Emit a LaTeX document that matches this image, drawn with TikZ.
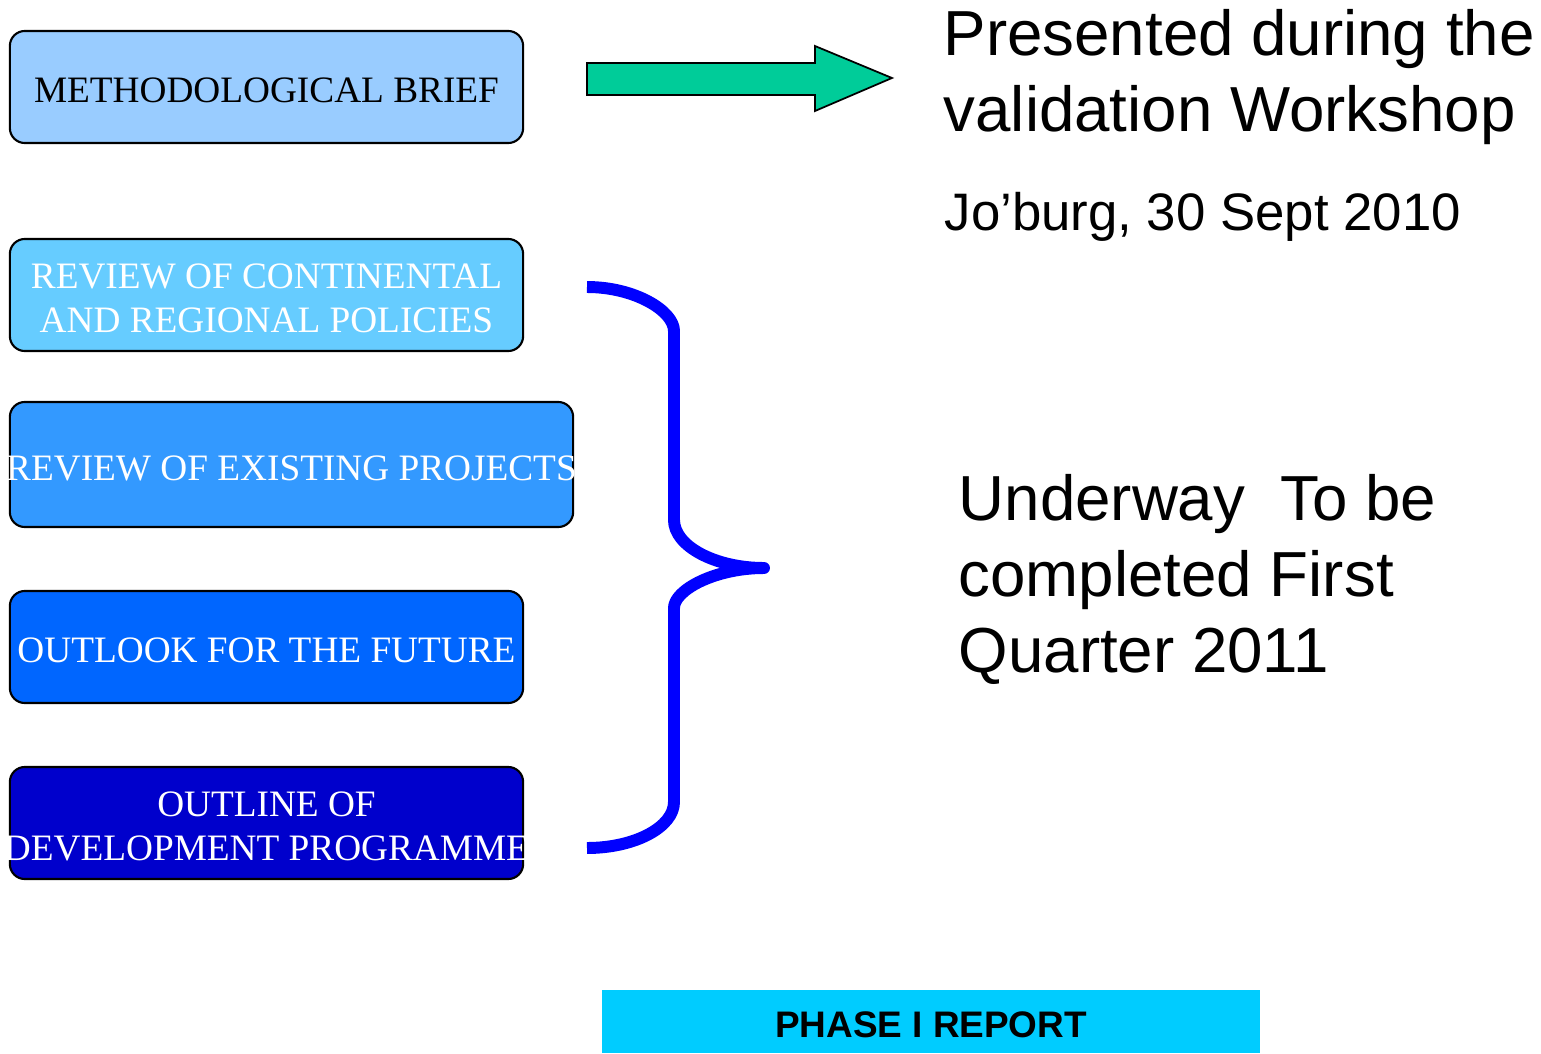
\documentclass[tikz,border=0pt]{standalone}
\usepackage{fontspec}
\setmainfont{Liberation Sans}
\newfontfamily\stagefont{Liberation Serif}
\usetikzlibrary{positioning}

\definecolor{briefblue}{HTML}{99CCFF}
\definecolor{policyblue}{HTML}{66CCFF}
\definecolor{projectblue}{HTML}{3399FF}
\definecolor{outlookblue}{HTML}{0066FF}
\definecolor{outlineblue}{HTML}{0000CC}
\definecolor{arrowgreen}{HTML}{00CC99}
\definecolor{bracebl}{HTML}{0000FF}
\definecolor{phasecyan}{HTML}{00CCFF}

\begin{document}
\begin{tikzpicture}[x=0.01cm, y=-0.01cm,
  stage/.style={shape=rectangle, rounded corners=0.15cm, draw=black, line width=0.6pt,
    minimum width=5.13cm, minimum height=1.12cm, inner sep=0pt},
  stagetext/.style={align=center, inner sep=0pt, text=white,
    font=\stagefont\fontsize{10.6pt}{12.5pt}\selectfont},
  note/.style={align=left, inner sep=0pt, anchor=base west,
    font=\fontsize{18.1pt}{21.6pt}\selectfont}]
\useasboundingbox (0,0) rectangle (1541,1054);

% stages of the study
\node[stage, fill=briefblue, label={[stagetext, text=black, yshift=-1pt]center:METHODOLOGICAL BRIEF}] (brief) at (266.5,87) {};
\node[stage, fill=policyblue, label={[stagetext, yshift=-1pt]center:REVIEW OF CONTINENTAL\\AND REGIONAL POLICIES}] (policies) at (266.5,295) {};
\node[stage, fill=projectblue, minimum width=5.63cm, minimum height=1.25cm, label={[stagetext, yshift=-1pt]center:REVIEW OF EXISTING PROJECTS}] (projects) at (291.5,464.5) {};
\node[stage, fill=outlookblue, label={[stagetext, yshift=-1pt]center:OUTLOOK FOR THE FUTURE}] (outlook) at (266.5,647) {};
\node[stage, fill=outlineblue, label={[stagetext, yshift=-1pt]center:OUTLINE OF\\DEVELOPMENT PROGRAMME}] (outline) at (266.5,823) {};

% arrow and brace
\draw[fill=arrowgreen, line width=0.5pt] (587,63) -- (815,63) -- (815,46) -- (892,78)
  -- (815,111) -- (815,95) -- (587,95) -- cycle;
\coordinate (bracetop) at (587,287);
\coordinate (bracetip) at (764,568);
\coordinate (bracebot) at (587,848);
\draw[draw=bracebl, line width=3.4pt, line join=round]
  (bracetop) .. controls (635,287) and (674,311) .. (674,331)
  -- (674,520) .. controls (674,546) and (715,568) .. (bracetip)
  .. controls (715,568) and (674,590) .. (674,608)
  -- (674,802) .. controls (674,827) and (635,848) .. (bracebot);

% notes (base anchor sits on the last line)
\node[note] (presented) at (943,131) {Presented during the\\validation Workshop};
\node[note, font=\fontsize{15pt}{18pt}\selectfont] (joburg) at (944,230) {Jo’burg, 30 Sept 2010};
\node[note] (underway) at (958,672) {Underway\ \ To be\\completed First\\Quarter 2011};

\node[fill=phasecyan, minimum width=6.58cm, minimum height=0.63cm, inner sep=0pt, text height=9.3pt,
  font=\bfseries\fontsize{10.5pt}{12pt}\selectfont] (phase) at (931,1021.5) {PHASE I REPORT};
\end{tikzpicture}
\end{document}
